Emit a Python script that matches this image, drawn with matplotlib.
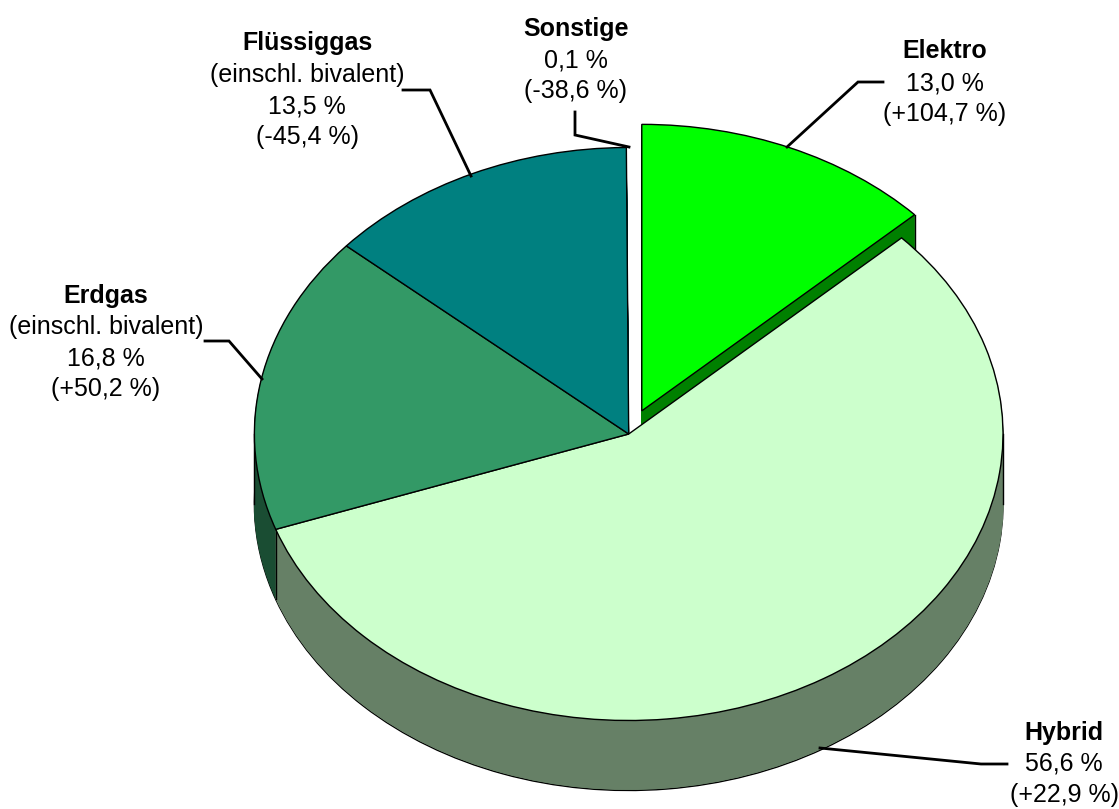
import matplotlib
matplotlib.use('Agg')
import numpy as np
import matplotlib.pyplot as plt

names = ['Elektro', 'Hybrid', 'Erdgas', 'Flüssiggas', 'Sonstige']
shares = [13.0, 56.6, 16.8, 13.5, 0.1]
changes = ['+104,7', '+22,9', '+50,2', '-45,4', '-38,6']
notes = ['', '', '(einschl. bivalent)', '(einschl. bivalent)', '']
top_colors = ['#00FF00', '#CCFFCC', '#339966', '#008080', '#FFFFFF']
wall_colors = ['#008000', '#668066', '#1A4D33', '#004040', '#FFFFFF']

W, H = 1119, 809
cx, cy = 628.7, 434.0    # pie centre in px
rx, ry = 374.3, 286.5    # ellipse radii in px
depth = 70               # wall height in px
explode = [0.088, 0, 0, 0, 0]

# label centre x and the baseline of each text line, px
label_x = [945, 1064, 106, 307, 576]
label_y = [[58, 90, 121], [740, 771, 802], [303, 334, 365, 396],
           [50, 82, 113, 144], [36, 67, 98]]
# leader lines, px
leaders = [[(883, 82), (858, 82), (787, 147)],
           [(1007, 764), (981, 764), (820, 748)],
           [(205, 341), (229, 341), (262, 379)],
           [(403, 90), (430, 90), (471, 176)],
           [(575, 112), (575, 135), (629, 147)]]

plt.rcParams['font.family'] = ['Liberation Sans', 'DejaVu Sans']
fig = plt.figure(figsize=(W / 100, H / 100), dpi=100)
ax = fig.add_axes([0, 0, 1, 1])


def set_zorder(wedges, first, rest):
    wedges[0].set_zorder(first)
    for w in wedges[1:]:
        w.set_zorder(rest)


# walls, bottom layer first; the last layer drawn on top hides the rest
for d in range(depth, 0, -1):
    wedges, _ = ax.pie(shares, explode=explode, colors=wall_colors, startangle=90,
                       counterclock=False, radius=1, center=(0, -d / ry))
    for w in wedges:
        if d == depth:
            w.set_edgecolor('black')
            w.set_linewidth(1.0)
        else:
            w.set_edgecolor(w.get_facecolor())
            w.set_linewidth(0.6)
    set_zorder(wedges, 1, 3)
    wedges[4].set_visible(False)

wedges, _ = ax.pie(shares, explode=explode, colors=top_colors, startangle=90,
                   counterclock=False, radius=1,
                   wedgeprops={'linewidth': 1.0, 'edgecolor': 'black'})
set_zorder(wedges, 2, 4)
wedges[4].set_visible(False)

ax.set_aspect('auto')
ax.set_xlim(-cx / rx, (W - cx) / rx)
ax.set_ylim(-(H - cy) / ry, cy / ry)

# vertical wall edges
ang = np.radians(90 - 360 * np.cumsum(shares) / np.sum(shares))
d_y = depth / ry
ax.plot([np.cos(ang[1])] * 2, [np.sin(ang[1]), np.sin(ang[1]) - d_y], color='black', lw=1.0, zorder=3.5)
ax.plot([-1, -1], [0, -d_y], color='black', lw=1.0, zorder=3.5)
ax.plot([1, 1], [0, -d_y], color='black', lw=1.0, zorder=3.5)
mid = np.radians(90 - 360 * shares[0] / np.sum(shares) / 2)
ex, ey = explode[0] * np.cos(mid), explode[0] * np.sin(mid)
ax.plot([np.cos(ang[0]) + ex] * 2, [np.sin(ang[0]) + ey, np.sin(ang[0]) + ey - d_y],
        color='black', lw=1.0, zorder=1.5)

# overlay in pixel coordinates for labels and leaders
ov = fig.add_axes([0, 0, 1, 1], facecolor='none')
ov.set_xlim(0, W)
ov.set_ylim(H, 0)
ov.axis('off')

for i, name in enumerate(names):
    share = f'{shares[i]:.1f}'.replace('.', ',') + ' %'
    lines = [name] + ([notes[i]] if notes[i] else []) + [share, f'({changes[i]} %)']
    for j, line in enumerate(lines):
        ov.text(label_x[i], label_y[i][j], line, ha='center', va='baseline', fontsize=18,
                fontweight='bold' if j == 0 else 'normal', color='black')
    xs, ys = zip(*leaders[i])
    ov.plot(xs, ys, color='black', lw=2.0, solid_joinstyle='miter')

fig.savefig('out.png', dpi=100)
